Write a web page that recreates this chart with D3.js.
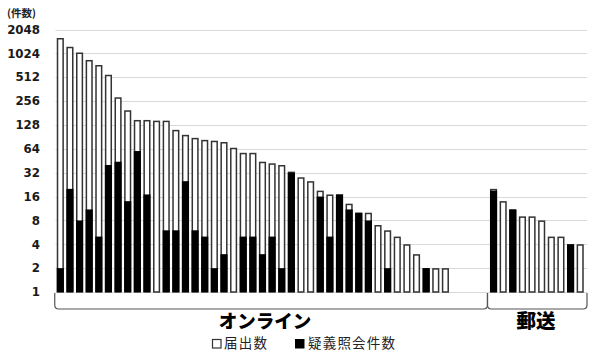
<!DOCTYPE html>
<html><head><meta charset="utf-8">
<script src="https://cdn.jsdelivr.net/npm/d3@7"></script>
<style>body{margin:0;background:#fff}svg{display:block}</style>
</head><body>
<svg id="c" width="593" height="352"></svg>
<script>
// ---- data ----
const groups = ["オンライン", "郵送"];
const onlineFiled = [1600,1240,1050,845,730,550,286,196,148,148,145,145,111,96,88,83,81,78,66,57,57,44,42,40,33,28,25,19,17,17,13,10,10,7,6,5,4,3,2,2,2];
const onlineQuery = [2,20,8,11,5,40,44,14,60,17,0,6,6,25,6,5,2,3,0,5,5,3,5,2,32,0,0,16,5,17,11,10,8,0,2,0,0,0,2,0,0];
const onlineEmptySlots = 4;
const postFiled = [20,14,11,9,9,8,5,5,4,4];
const postQuery = [19,0,11,0,0,0,0,0,4,0];
const yTicks = [1,2,4,8,16,32,64,128,256,512,1024,2048];
const seriesNames = ["届出数", "疑義照会件数"];
const unitLabel = "(件数)";

(function(){
const rows = [];
onlineFiled.forEach((v,i)=>rows.push({g:0, filed:v, query:onlineQuery[i]}));
for(let i=0;i<onlineEmptySlots;i++) rows.push({g:0, filed:0, query:0});
postFiled.forEach((v,i)=>rows.push({g:1, filed:v, query:postQuery[i]}));
rows.forEach((r,i)=>r.i=i);

const svg = d3.select("#c");
const pL = 55.5, pR = 585, pT = 29.5, pB = 292;
const x = d3.scaleBand().domain(rows.map(r=>r.i)).range([pL,pR]).paddingInner(0.26).paddingOuter(0.13);
const y = d3.scaleLog().base(2).domain([1,2048]).range([pB, pT]);

// gridlines
svg.append("g").selectAll("line").data(yTicks).join("line")
  .attr("x1", pL).attr("x2", pR+2)
  .attr("y1", d=>Math.round(y(d))+0.5).attr("y2", d=>Math.round(y(d))+0.5)
  .attr("stroke", "#d9d9d9").attr("stroke-width", 1);

// tick labels
svg.append("g").selectAll("text").data(yTicks).join("text")
  .attr("x", 40).attr("y", d=>y(d)).attr("dy","0.36em")
  .attr("text-anchor","end")
  .attr("font-family","DejaVu Sans, sans-serif").attr("font-weight","bold")
  .attr("font-size", 11.8).attr("fill","#1a1a1a")
  .text(d=>d);

svg.append("text").attr("x", 7).attr("y", 16.5)
  .attr("font-family","Noto Sans CJK JP").attr("font-weight","bold")
  .attr("font-size", 10.5).attr("fill","#222").text(unitLabel);

// bars
const bw = x.bandwidth();
const gb = svg.append("g");
gb.selectAll("rect.f").data(rows.filter(r=>r.filed>1)).join("rect")
  .attr("class","f")
  .attr("x", d=>x(d.i)+0.75).attr("width", bw-1.5)
  .attr("y", d=>y(d.filed)+0.75).attr("height", d=>pB - y(d.filed)-0.75)
  .attr("fill","#fff").attr("stroke","#333").attr("stroke-width",1.5);
gb.selectAll("rect.q").data(rows.filter(r=>r.query>1)).join("rect")
  .attr("class","q")
  .attr("x", d=>x(d.i)).attr("width", bw)
  .attr("y", d=>y(d.query)).attr("height", d=>pB - y(d.query))
  .attr("fill","#000");

// group brackets
function bracket(x0, x1){
  const yt = 293, yb = 309, r = 4;
  return `M${x0},${yt} L${x0},${yb-r} Q${x0},${yb} ${x0+r},${yb} L${x1-r},${yb} Q${x1},${yb} ${x1},${yb-r} L${x1},${yt}`;
}
const onlineStart = x(0) - 2, onlineEnd = x(onlineFiled.length + onlineEmptySlots - 1) + bw;
const postStart = x(onlineFiled.length + onlineEmptySlots) - 2.5, postEnd = pR + 2;
const br = [[onlineStart, onlineEnd], [postStart, postEnd]];
svg.append("g").selectAll("path").data(br).join("path")
  .attr("d", d=>bracket(d[0], d[1]))
  .attr("fill","none").attr("stroke","#555").attr("stroke-width",1.2);

const labelX = [265, 536];
svg.append("g").selectAll("text").data(groups).join("text")
  .attr("x", (d,i)=>labelX[i])
  .attr("y", 328)
  .attr("text-anchor","middle")
  .attr("font-family","Noto Sans CJK JP").attr("font-weight","900")
  .attr("font-size", (d,i)=>i===0 ? 18.5 : 19.5).attr("fill","#000")
  .text(d=>d);

// legend
const lg = svg.append("g").attr("font-family","Noto Sans CJK JP").attr("font-size",13.5).attr("fill","#222").attr("letter-spacing", 1.2);
lg.append("rect").attr("x",212.5).attr("y",339.5).attr("width",8.5).attr("height",8.5)
  .attr("fill","#fff").attr("stroke","#333").attr("stroke-width",1.2);
lg.append("text").attr("x",224).attr("y",348).text(seriesNames[0]);
lg.append("rect").attr("x",295).attr("y",339).attr("width",9.5).attr("height",9.5).attr("fill","#000");
lg.append("text").attr("x",308).attr("y",348).text(seriesNames[1]);
})();
</script>
</body></html>
